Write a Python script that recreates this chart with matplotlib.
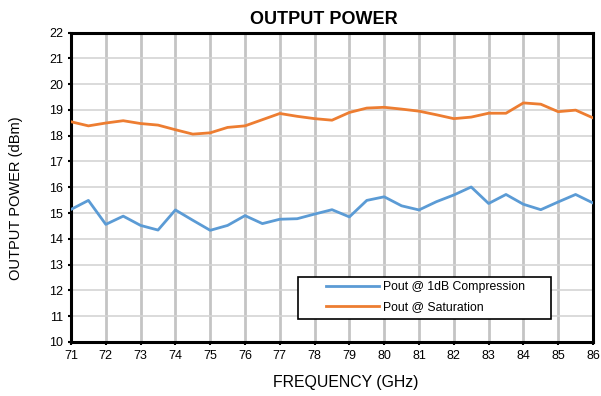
import matplotlib
matplotlib.use("Agg")
import matplotlib.pyplot as plt
from matplotlib.patches import Rectangle

freq = [71, 71.5, 72, 72.5, 73, 73.5, 74, 74.5, 75, 75.5, 76, 76.5, 77, 77.5, 78, 78.5,
        79, 79.5, 80, 80.5, 81, 81.5, 82, 82.5, 83, 83.5, 84, 84.5, 85, 85.5, 86]
p1db = [15.14, 15.49, 14.56, 14.88, 14.52, 14.34, 15.12, 14.72, 14.33, 14.52, 14.90, 14.59,
        14.76, 14.78, 14.96, 15.13, 14.85, 15.49, 15.63, 15.28, 15.12, 15.44, 15.70, 16.01,
        15.37, 15.72, 15.34, 15.13, 15.43, 15.72, 15.39]
psat = [18.54, 18.38, 18.49, 18.58, 18.47, 18.41, 18.23, 18.06, 18.11, 18.32, 18.38, 18.62,
        18.86, 18.75, 18.66, 18.60, 18.90, 19.07, 19.10, 19.03, 18.95, 18.81, 18.66, 18.72,
        18.87, 18.87, 19.27, 19.22, 18.93, 18.99, 18.69]
xticks = list(range(71, 87))
yticks = list(range(10, 23))

plt.rcParams['font.family'] = ['Liberation Sans', 'DejaVu Sans']

W, H = 601, 396
L, R, T, B = 71, 593, 32.5, 342
fig = plt.figure(figsize=(6.01, 3.96), dpi=100)
ax = fig.add_axes([L/W, 1-B/H, (R-L)/W, (B-T)/H])
aw, ah = R - L, B - T

ax.plot(freq, p1db, color='#5b9bd5', lw=2.0, label='Pout @ 1dB Compression', zorder=3)
ax.plot(freq, psat, color='#ed7d31', lw=2.0, label='Pout @ Saturation', zorder=3)

ax.set_xlim(71, 86)
ax.set_ylim(10, 22)
ax.set_xticks(xticks)
ax.set_yticks(yticks)
ax.tick_params(labelsize=9, length=2.5, width=1.5, pad=3, color='black')
ax.xaxis.grid(True, color='#c4c4c4', lw=2.0)
ax.yaxis.grid(True, color='#d4d4d4', lw=1.2)
ax.set_axisbelow(True)
for s in ax.spines.values():
    s.set_linewidth(2.2)
    s.set_color('black')

ax.set_title('OUTPUT POWER', fontsize=13, fontweight='bold', pad=6, x=(324-L)/aw)
ax.set_xlabel('FREQUENCY (GHz)', fontsize=11.4)
ax.xaxis.set_label_coords((346-L)/aw, -(383-B)/ah)
ax.xaxis.label.set_va('center')
ax.set_ylabel('OUTPUT POWER (dBm)', fontsize=10.5)
ax.yaxis.set_label_coords(-(L-16.5)/aw, (B-198)/ah)
ax.yaxis.label.set_va('center')

# legend box
ax.add_patch(Rectangle(((298-L)/aw, (B-319)/ah), 253/aw, 42/ah, transform=ax.transAxes,
                       facecolor='white', edgecolor='black', lw=1.2, zorder=5))
leg = ax.legend(loc='upper left', bbox_to_anchor=((326-L)/aw, (B-281)/ah),
                fontsize=8.8, frameon=False, handlelength=4.34, borderpad=0,
                labelspacing=0.64, handletextpad=0.33, borderaxespad=0)
leg.set_zorder(6)

fig.savefig('out.png', dpi=100)
